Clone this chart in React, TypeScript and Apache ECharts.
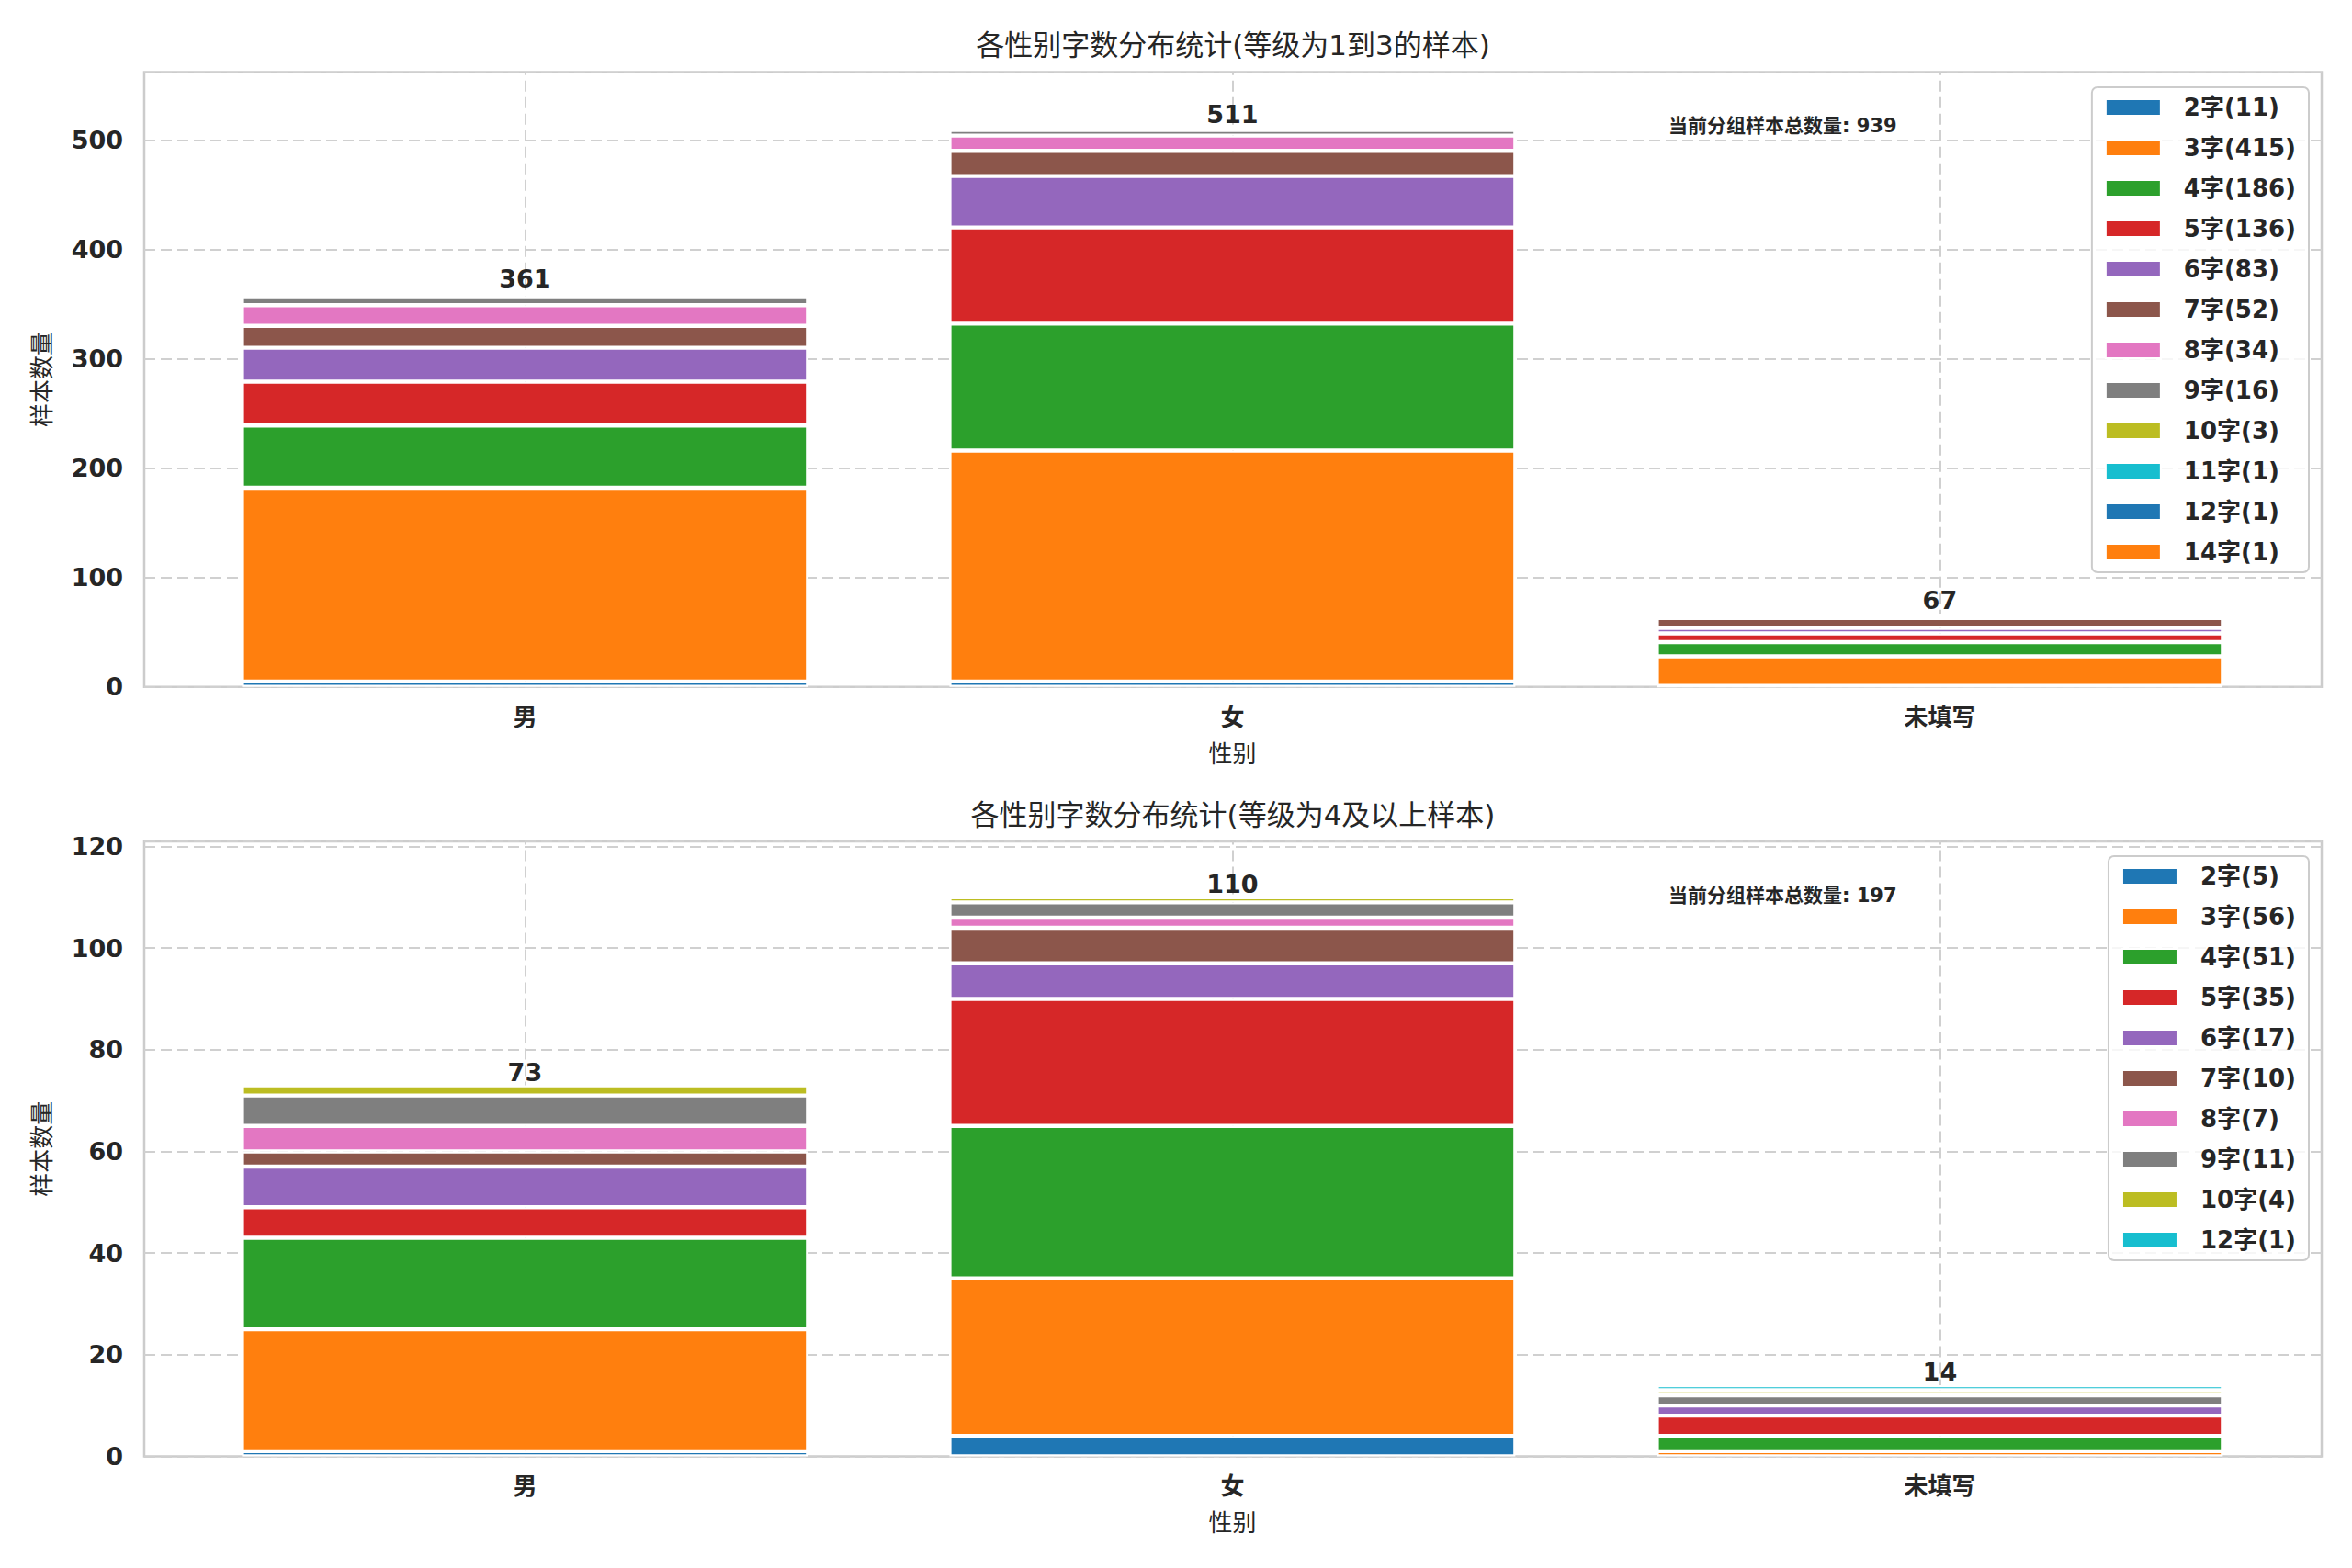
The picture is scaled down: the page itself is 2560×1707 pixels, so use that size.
import React, { useEffect, useRef } from 'react';
import * as echarts from 'echarts';

// ---------------- data ----------------
const categories = ['男', '女', '未填写'];
const xAxisName = '性别';
const yAxisName = '样本数量';
const totalText = '当前分组样本总数量';
const titleTop = '各性别字数分布统计(等级为1到3的样本)';
const titleBottom = '各性别字数分布统计(等级为4及以上样本)';

// top panel: name length (chars) -> counts per category [男, 女, 未填写]
const lengthsTop = [2, 3, 4, 5, 6, 7, 8, 9, 10, 11, 12, 14];
const valuesTop = [
  [5, 5, 1],
  [177, 211, 27],
  [57, 116, 13],
  [40, 88, 8],
  [31, 47, 5],
  [20, 23, 9],
  [19, 14, 1],
  [8, 5, 3],
  [2, 1, 0],
  [1, 0, 0],
  [0, 1, 0],
  [1, 0, 0],
];

// bottom panel
const lengthsBottom = [2, 3, 4, 5, 6, 7, 8, 9, 10, 12];
const valuesBottom = [
  [1, 4, 0],
  [24, 31, 1],
  [18, 30, 3],
  [6, 25, 4],
  [8, 7, 2],
  [3, 7, 0],
  [5, 2, 0],
  [6, 3, 2],
  [2, 1, 1],
  [0, 0, 1],
];

const tickIntervalTop = 100;
const tickIntervalBottom = 20;

const palette = [
  '#1f77b4', '#ff7f0e', '#2ca02c', '#d62728', '#9467bd',
  '#8c564b', '#e377c2', '#7f7f7f', '#bcbd22', '#17becf',
];

// ---------------- styling ----------------
const FONT = "'DejaVu Sans', 'Noto Sans CJK SC', sans-serif";
const TXT = '#262626';
const GRIDC = '#d0d0d0';

const W = 2560;
const H = 1707;
const OUTER_LEFT = 157;
const OUTER_RIGHT = 33;
const INNER_LEFT = 186.4;
const INNER_RIGHT = 63.6;
const PANELS = [
  { top: 78.4, height: 669.4, legendTop: 95, titleY: 49, noteY: 137 },
  { top: 916, height: 669.4, legendTop: 932, titleY: 887, noteY: 975 },
];

function buildPanel(p: number, lengths: number[], values: number[][], interval: number, title: string) {
  const layout = PANELS[p];
  const totals = categories.map((_, c) => values.reduce((s, row) => s + row[c], 0));
  const grand = totals.reduce((a, b) => a + b, 0);
  const ymax = Math.max(...totals) * 1.1;
  const outer = 2 * p;
  const inner = 2 * p + 1;
  const names = lengths.map((_, i) => `P${p}_${i}`);
  const display: Record<string, string> = {};
  lengths.forEach((len, i) => {
    const cnt = values[i].reduce((a, b) => a + b, 0);
    display[names[i]] = `${len}字(${cnt})`;
  });

  const grids = [
    {
      left: OUTER_LEFT, right: OUTER_RIGHT, top: layout.top, height: layout.height,
      show: true, borderColor: '#cccccc', borderWidth: 2.5, backgroundColor: 'transparent',
    },
    { left: INNER_LEFT, right: INNER_RIGHT, top: layout.top, height: layout.height },
  ];

  const xAxes = [
    { gridIndex: outer, type: 'value', min: 0, max: 1, show: false },
    {
      gridIndex: inner, type: 'category', data: categories,
      axisLine: { show: false }, axisTick: { show: false },
      axisLabel: { fontSize: 26, fontWeight: 'bold', color: TXT, fontFamily: FONT, margin: 20 },
      splitLine: { show: false },
      name: xAxisName, nameLocation: 'middle', nameGap: 60,
      nameTextStyle: { fontSize: 26, color: TXT, fontFamily: FONT },
    },
  ];

  const yAxes = [
    {
      gridIndex: outer, type: 'value', min: 0, max: ymax, interval,
      axisLine: { show: false }, axisTick: { show: false },
      axisLabel: {
        fontSize: 27, fontWeight: 'bold', color: TXT, fontFamily: FONT, margin: 23,
        formatter: (v: number) => (Math.abs(v / interval - Math.round(v / interval)) < 1e-6 ? String(Math.round(v)) : ''),
      },
      splitLine: { show: true, lineStyle: { color: GRIDC, width: 2, type: [12, 6] } },
      name: yAxisName, nameLocation: 'middle', nameGap: 98, nameRotate: 90,
      nameTextStyle: { fontSize: 26, color: TXT, fontFamily: FONT },
    },
    { gridIndex: inner, type: 'value', min: 0, max: ymax, show: false, splitLine: { show: false } },
  ];

  const series: any[] = lengths.map((_, i) => ({
    type: 'bar',
    name: names[i],
    xAxisIndex: inner,
    yAxisIndex: inner,
    stack: `stack${p}`,
    // empty cells are left out (null) so they draw no mark
    data: values[i].map((v) => (v === 0 ? null : v)),
    barWidth: '80%',
    barGap: '-100%',
    itemStyle: { color: palette[i % palette.length], borderColor: '#ffffff', borderWidth: 2.2 },
    emphasis: { disabled: true },
  }));

  series.push({
    type: 'bar',
    name: `P${p}_total`,
    xAxisIndex: inner,
    yAxisIndex: inner,
    data: totals,
    barWidth: '80%',
    barGap: '-100%',
    silent: true,
    z: 3,
    itemStyle: { color: 'rgba(0,0,0,0)', borderWidth: 0 },
    label: {
      show: true, position: 'top', distance: 1,
      fontSize: 27, fontWeight: 'bold', color: TXT, fontFamily: FONT,
    },
    emphasis: { disabled: true },
    markLine: {
      silent: true,
      symbol: ['none', 'none'],
      z: 1,
      label: { show: false },
      lineStyle: { color: GRIDC, width: 2, type: [12, 6] },
      emphasis: { disabled: true },
      data: categories.map((c) => ({ xAxis: c })),
    },
  });

  const legend = {
    orient: 'vertical',
    right: 47,
    top: layout.legendTop,
    data: names,
    formatter: (n: string) => display[n],
    icon: 'rect',
    itemWidth: 60,
    itemHeight: 18,
    itemGap: 18,
    selectedMode: false,
    textStyle: {
      fontSize: 26, fontWeight: 'bold', color: TXT, fontFamily: FONT,
      lineHeight: 26, padding: [0, 0, 0, 20],
    },
    backgroundColor: 'rgba(255,255,255,0.8)',
    borderColor: '#cccccc',
    borderWidth: 2,
    borderRadius: 6,
    padding: [9, 14, 9, 14],
  };

  const graphics = [
    {
      type: 'text', x: (OUTER_LEFT + (W - OUTER_RIGHT)) / 2, y: layout.titleY, z: 100,
      style: { text: title, fill: TXT, fontSize: 31, fontFamily: FONT, align: 'center', verticalAlign: 'middle' },
    },
    {
      type: 'text', x: OUTER_LEFT + 0.7 * (W - OUTER_LEFT - OUTER_RIGHT), y: layout.noteY, z: 100,
      style: {
        text: `${totalText}: ${grand}`, fill: TXT, fontSize: 21, fontWeight: 'bold', fontFamily: FONT,
        align: 'left', verticalAlign: 'middle',
      },
    },
  ];

  return { grids, xAxes, yAxes, series, legend, graphics };
}

export default function App() {
  const ref = useRef<HTMLDivElement>(null);

  useEffect(() => {
    if (!ref.current) return;
    const chart = echarts.init(ref.current, undefined, { renderer: 'svg', width: W, height: H });
    const a = buildPanel(0, lengthsTop, valuesTop, tickIntervalTop, titleTop);
    const b = buildPanel(1, lengthsBottom, valuesBottom, tickIntervalBottom, titleBottom);
    chart.setOption({
      animation: false,
      backgroundColor: '#ffffff',
      textStyle: { fontFamily: FONT },
      grid: [...a.grids, ...b.grids],
      xAxis: [...a.xAxes, ...b.xAxes],
      yAxis: [...a.yAxes, ...b.yAxes],
      series: [...a.series, ...b.series],
      legend: [a.legend, b.legend],
      graphic: [...a.graphics, ...b.graphics],
    });
    return () => chart.dispose();
  }, []);

  return (
    <div
      ref={ref}
      style={{ position: 'fixed', left: 0, top: 0, width: W, height: H, background: '#ffffff' }}
    />
  );
}
